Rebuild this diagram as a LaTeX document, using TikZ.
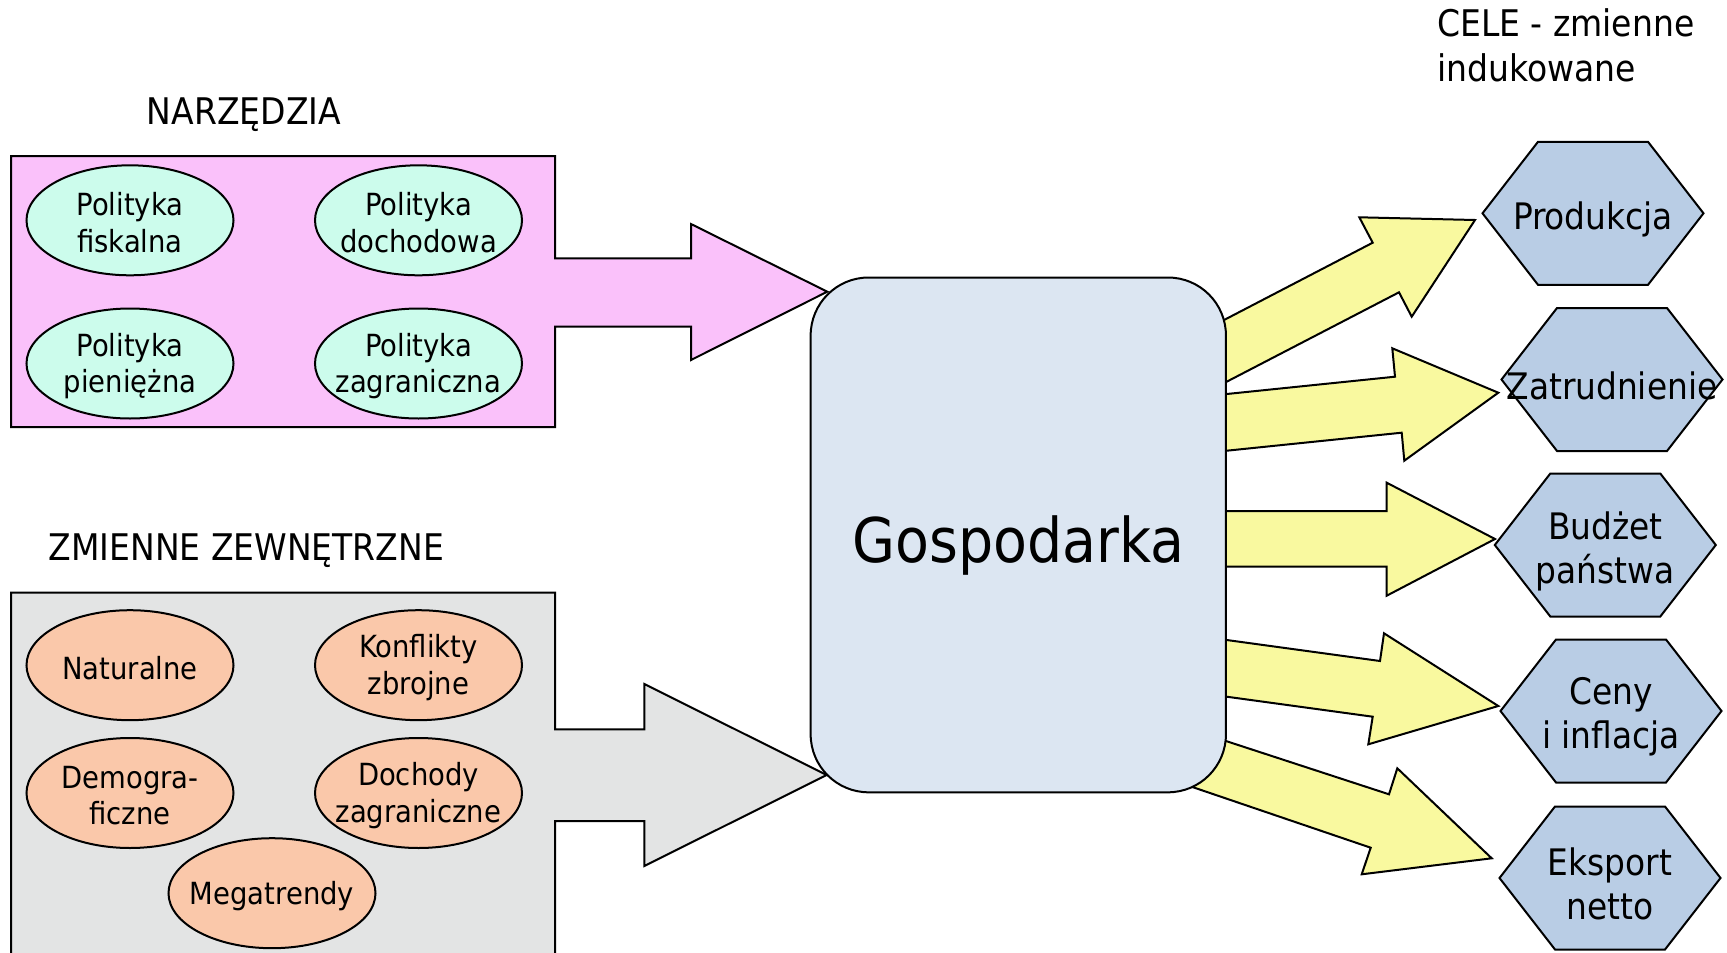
\documentclass[tikz,border=0pt]{standalone}
\usepackage{fontspec}
\setmainfont{DejaVu Sans Condensed}
\usetikzlibrary{shapes.geometric}

\definecolor{pinkfill}{HTML}{FAC1FA}
\definecolor{mintfill}{HTML}{CCFCEC}
\definecolor{greyfill}{HTML}{E3E4E4}
\definecolor{salmonfill}{HTML}{FAC8AA}
\definecolor{boxfill}{HTML}{DCE6F2}
\definecolor{hexfill}{HTML}{B9CDE5}
\definecolor{yellowfill}{HTML}{F9F99F}

% hexagon (221 x 143) centred on a point
\newcommand\hexcell[1]{%
  \draw[outline, fill=hexfill] (#1) ++(-110.5,0) -- ++(55.5,-71.5) -- ++(110,0)
    -- ++(55.5,71.5) -- ++(-55.5,71.5) -- ++(-110,0) -- cycle;}

\begin{document}
\begin{tikzpicture}[x=1pt, y=-1pt, line join=miter,
  outline/.style={draw=black, line width=2pt},
  heading/.style={font=\fontsize{36.7}{44.5}\selectfont, inner sep=0pt, align=left},
  oval/.style={ellipse, outline, minimum width=207pt, minimum height=110pt, inner sep=0pt},
  toolov/.style={oval, fill=mintfill},
  extov/.style={oval, fill=salmonfill},
  ovtext/.style={font=\fontsize{30.5}{36.5}\selectfont, align=center, inner sep=0pt, yshift=-2.5pt},
  goaltext/.style={font=\fontsize{36.5}{44}\selectfont, align=center, inner sep=0pt, yshift=-6pt},
  blockarrow/.style={outline, fill=yellowfill}
]
\useasboundingbox (0,0) rectangle (1727,953);
\clip (0,0) rectangle (1727,953);

% section headings
\node[heading] (hTools) at (244,114.5) {NARZĘDZIA};
\node[heading] (hExt) at (246.5,550.5) {ZMIENNE ZEWNĘTRZNE};
\node[heading, anchor=north west] (hGoals) at (1437,8.6) {CELE - zmienne\\indukowane};

% arrows from the economy to the goals
\draw[blockarrow] (1150,358.5) -- (1372.7,242.7) -- (1359.3,217.3) -- (1475,220)
  -- (1411.7,316.7) -- (1399,292.3) -- (1150,421.5) -- cycle;
\draw[blockarrow] (1150,401.9) -- (1395,376.7) -- (1392.3,348.3) -- (1498.3,392.7)
  -- (1404.3,460.7) -- (1401.7,432.7) -- (1150,458.6) -- cycle;
\draw[blockarrow] (1150,511) -- (1386.7,511) -- (1386.7,482.7) -- (1495,539)
  -- (1386.7,595.7) -- (1386.7,566.7) -- (1150,566.7) -- cycle;
\draw[blockarrow] (1150,629.5) -- (1380,661) -- (1384,633.3) -- (1498.3,706)
  -- (1368.3,744.3) -- (1372.7,716.7) -- (1150,686.2) -- cycle;
\draw[blockarrow] (1150,716.2) -- (1389,794.3) -- (1397.3,768.3) -- (1491.7,858.3)
  -- (1361.7,874.3) -- (1370.7,847.7) -- (1150,772.6) -- cycle;

% instruments panel with its arrow
\draw[outline, fill=pinkfill] (11,156) -- (555,156) -- (555,258.3) -- (691,258.3)
  -- (691,224) -- (827.3,291.7) -- (691,360) -- (691,326.7) -- (555,326.7)
  -- (555,427) -- (11,427) -- cycle;

% external variables panel with its arrow
\draw[outline, fill=greyfill] (11,975) -- (11,592.6) -- (555,592.6) -- (555,729.3)
  -- (644.3,729.3) -- (644.3,684) -- (826.7,775) -- (644.3,866) -- (644.3,821)
  -- (555,821) -- (555,975) -- cycle;

% the economy
\node[outline, fill=boxfill, rounded corners=58pt, minimum width=415.3pt,
  minimum height=514.8pt, inner sep=0pt] (gosp) at (1018.3,534.9) {};
\node[font=\fontsize{61.6}{70}\selectfont, inner sep=0pt] (gospText)
  at (1018.3,545) {Gospodarka};

% instruments
\node[toolov] (fisk) at (130,220.3) {};
\node[ovtext] at (fisk) {Polityka\\fiskalna};
\node[toolov] (doch) at (418.5,220.3) {};
\node[ovtext] at (doch) {Polityka\\dochodowa};
\node[toolov] (pien) at (130,363.5) {};
\node[ovtext] at (pien) {Polityka\\pieniężna};
\node[toolov] (zagr) at (418.5,363.5) {};
\node[ovtext] at (zagr) {Polityka\\zagraniczna};

% external variables
\node[extov] (nat) at (130,665.2) {};
\node[ovtext] at (nat) {Naturalne};
\node[extov] (konf) at (418.5,665.2) {};
\node[ovtext] at (konf) {Konflikty\\zbrojne};
\node[extov] (demo) at (130,793) {};
\node[ovtext] at (demo) {Demogra-\\ficzne};
\node[extov] (dzag) at (418.5,793) {};
\node[ovtext] at (dzag) {Dochody\\zagraniczne};
\node[extov] (mega) at (272,893.2) {};
\node[ovtext] at (mega) {Megatrendy};

% goals
\hexcell{1593,213.3}
\node[goaltext] (prod) at (1593,213.3) {Produkcja};
\hexcell{1612,379.5}
\node[goaltext] (zatr) at (1612,379.5) {Zatrudnienie};
\hexcell{1605.3,545}
\node[goaltext] (budz) at (1605.3,545) {Budżet\\państwa};
\hexcell{1611,711}
\node[goaltext] (ceny) at (1611,711) {Ceny\\i inflacja};
\hexcell{1610,878}
\node[goaltext] (eksp) at (1610,878) {Eksport\\netto};
\end{tikzpicture}
\end{document}
